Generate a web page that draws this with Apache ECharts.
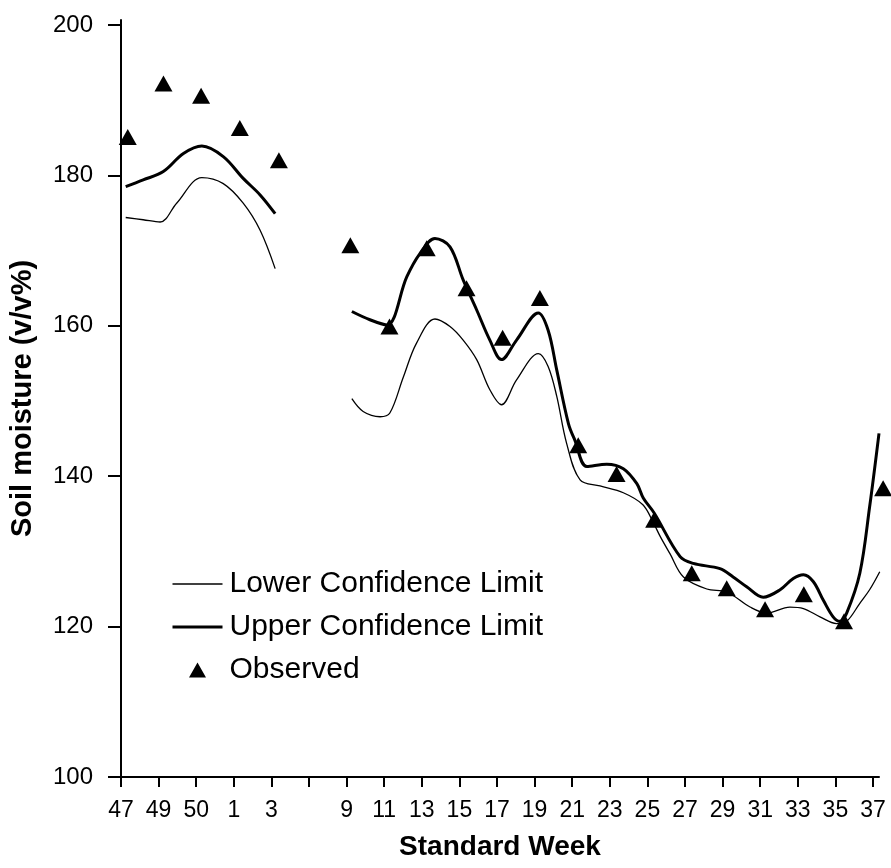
<!DOCTYPE html>
<html>
<head>
<meta charset="utf-8">
<script src="https://cdn.jsdelivr.net/npm/echarts@6/dist/echarts.min.js"></script>
<style>
  html, body { margin: 0; padding: 0; background: #fff; }
  #chart { width: 891px; height: 868px; }
</style>
</head>
<body>
<div id="chart"></div>
<script>
// Standard-week tick labels; slot 5 is an unlabelled tick (weeks 4–8 not sampled)
const weekTicks = ['47', '49', '50', '1', '3', '', '9', '11', '13', '15', '17', '19',
                   '21', '23', '25', '27', '29', '31', '33', '35', '37'];

// Observed soil moisture (position along the week axis, value)
const obsPos   = [0.18, 1.13, 2.13, 3.16, 4.20, 6.10, 7.14, 8.13, 9.19, 10.15,
                  11.14, 12.16, 13.18, 14.18, 15.18, 16.11, 17.13, 18.16, 19.23, 20.27];
const obsValue = [185.1, 192.2, 190.6, 186.3, 182.0, 170.7, 159.9, 170.3, 165.0, 158.4,
                  163.7, 144.1, 140.3, 134.2, 127.1, 125.1, 122.3, 124.3, 120.7, 138.4];

// Upper confidence limit, weeks 47–3 and 9–37
const upperEarly = [[0.125, 178.5], [0.59, 179.4], [1.125, 180.5], [1.66, 182.9], [2.15, 183.9],
                    [2.72, 182.5], [3.25, 179.6], [3.70, 177.4], [4.10, 174.9]];
const upperLate = [[6.14, 161.9], [6.62, 160.8], [7.07, 160.1], [7.60, 166.5], [7.95, 169.6],
                   [8.35, 171.6], [8.75, 170.5], [9.10, 166.1], [9.46, 162.1], [9.81, 158.1],
                   [10.12, 155.5], [10.52, 158.1], [11.10, 161.7], [11.36, 159.4], [11.59, 154.1],
                   [11.90, 147.0], [12.07, 144.8], [12.39, 141.3], [12.92, 141.6], [13.36, 141.0],
                   [13.72, 139.0], [13.89, 137.1], [14.18, 135.1], [14.87, 129.3], [15.22, 128.4],
                   [15.93, 127.7], [16.28, 126.6], [16.64, 125.3], [17.08, 123.9], [17.53, 124.9],
                   [17.88, 126.4], [18.15, 126.9], [18.41, 126.0], [18.68, 123.5], [18.94, 121.3],
                   [19.12, 120.7], [19.30, 121.8], [19.65, 127.1], [19.91, 135.9], [20.16, 145.7]];

// Lower confidence limit, weeks 47–3 and 9–37
const lowerEarly = [[0.125, 174.4], [0.59, 174.1], [1.04, 173.8], [1.48, 176.3], [2.15, 179.7],
                    [2.72, 178.9], [3.25, 176.3], [3.70, 172.7], [4.10, 167.6]];
const lowerLate = [[6.14, 150.3], [6.44, 148.6], [6.89, 147.9], [7.15, 148.4], [7.51, 153.2],
                   [7.86, 157.7], [8.35, 160.9], [8.75, 159.9], [9.10, 158.1], [9.46, 155.5],
                   [9.81, 151.5], [10.12, 149.5], [10.52, 152.8], [11.10, 156.3], [11.36, 154.6],
                   [11.59, 150.6], [11.85, 144.4], [12.21, 139.5], [12.74, 138.7], [13.36, 137.8],
                   [13.88, 136.2], [14.16, 133.8], [14.34, 132.0], [14.60, 129.7], [14.96, 126.6],
                   [15.58, 125.0], [16.11, 124.6], [16.73, 122.6], [17.17, 121.8], [17.79, 122.6],
                   [18.15, 122.4], [18.59, 121.3], [19.03, 120.4], [19.30, 120.7], [19.65, 123.1],
                   [19.91, 124.9], [20.18, 127.3]];

const yTicks = [100, 120, 140, 160, 180, 200];

const FONT = '"Liberation Sans", Arial, Helvetica, sans-serif';
const LOWER_W = 1.3;
const UPPER_W = 3;
const chart = echarts.init(document.getElementById('chart'), null, { renderer: 'canvas' });

const lineSeries = (name, data, width) => ({
  name, type: 'line', data, smooth: 0.35, symbol: 'none', showSymbol: false,
  clip: false, z: 2,
  lineStyle: { color: '#000', width },
  itemStyle: { color: '#000' }
});

// Legend triangle: a zero-area guide segment spans the icon box so the triangle keeps its shape
const triangleIcon = 'path://M0,15L50,15M16.5,15L25,0L33.5,15Z';

chart.setOption({
  animation: false,
  backgroundColor: '#fff',
  textStyle: { fontFamily: FONT, color: '#000' },
  grid: { left: 121, right: 12, top: 20, bottom: 91, containLabel: false },
  legend: {
    data: [
      { name: 'Lower Confidence Limit', itemStyle: { opacity: 0 },
        lineStyle: { color: '#000', width: LOWER_W } },
      { name: 'Upper Confidence Limit', itemStyle: { opacity: 0 },
        lineStyle: { color: '#000', width: UPPER_W } },
      { name: 'Observed', icon: triangleIcon, itemStyle: { color: '#000', opacity: 1 } }
    ],
    orient: 'vertical',
    left: 166, top: 564,
    itemWidth: 50, itemHeight: 15, itemGap: 13,
    textStyle: { fontFamily: FONT, fontSize: 30, color: '#000', lineHeight: 30, padding: [0, 0, 0, 2] }
  },
  xAxis: {
    type: 'value', min: 0, max: 20.16,
    name: 'Standard Week', nameLocation: 'middle', nameGap: 56,
    nameTextStyle: { fontFamily: FONT, fontSize: 28, fontWeight: 'bold', color: '#000' },
    axisLine: { show: true, lineStyle: { color: '#000', width: 2 } },
    axisTick: { show: true, length: 10, lineStyle: { color: '#000', width: 2 },
                customValues: weekTicks.map((_, i) => i) },
    axisLabel: { fontFamily: FONT, fontSize: 23, color: '#000', margin: 22,
                 customValues: weekTicks.map((_, i) => i).filter(i => weekTicks[i] !== ''),
                 formatter: v => weekTicks[Math.round(v)] },
    splitLine: { show: false }
  },
  yAxis: {
    type: 'value', min: 100, max: 200.66,
    name: 'Soil moisture (v/v%)', nameLocation: 'middle', nameGap: 84,
    nameTextStyle: { fontFamily: FONT, fontSize: 29, fontWeight: 'bold', color: '#000' },
    axisLine: { show: true, lineStyle: { color: '#000', width: 2 } },
    axisTick: { show: true, length: 13, lineStyle: { color: '#000', width: 2 }, customValues: yTicks },
    axisLabel: { fontFamily: FONT, fontSize: 24, color: '#000', margin: 28, customValues: yTicks },
    splitLine: { show: false }
  },
  series: [
    lineSeries('Lower Confidence Limit', lowerEarly, LOWER_W),
    lineSeries('Lower Confidence Limit', lowerLate, LOWER_W),
    lineSeries('Upper Confidence Limit', upperEarly, UPPER_W),
    lineSeries('Upper Confidence Limit', upperLate, UPPER_W),
    {
      name: 'Observed', type: 'scatter', clip: false, z: 3,
      symbol: 'triangle', symbolSize: [18, 16],
      itemStyle: { color: '#000', opacity: 1 },
      data: obsPos.map((p, i) => [p, obsValue[i]])
    }
  ]
});
</script>
</body>
</html>
